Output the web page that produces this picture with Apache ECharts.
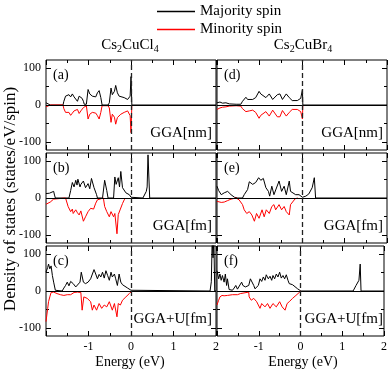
<!DOCTYPE html>
<html>
<head>
<meta charset="utf-8">
<script src="https://cdn.jsdelivr.net/npm/echarts@6/dist/echarts.min.js"></script>
<style>
  html, body { margin: 0; padding: 0; background: #fff; }
  #chart { width: 390px; height: 380px; }
</style>
</head>
<body>
<div id="chart"></div>
<script>
// energies in eV, DOS in states/eV/spin
const aMaj = [[-2, 6], [-1.96, 4], [-1.9, 0], [-1.6, 0], [-1.58, 10], [-1.54, 24], [-1.5, 20], [-1.46, 28], [-1.42, 22], [-1.38, 30], [-1.34, 22], [-1.3, 26], [-1.26, 10], [-1.22, 24], [-1.18, 20], [-1.15, 18], [-1.12, 10], [-1.1, 2], [-1.05, 2], [-1.01, 42], [-0.97, 30], [-0.91, 24], [-0.83, 22], [-0.79, 33], [-0.75, 39], [-0.71, 20], [-0.68, 0], [-0.54, 0], [-0.51, 6], [-0.47, 46], [-0.44, 28], [-0.39, 37], [-0.36, 53], [-0.32, 33], [-0.28, 24], [-0.24, 26], [-0.16, 20], [-0.08, 15], [-0.02, 24], [0, 77], [0.02, 0], [2, 0]]
const aMin = [[-2, -5], [-1.9, 0], [-1.6, 0], [-1.58, -10], [-1.54, -20], [-1.5, -25], [-1.46, -20], [-1.42, -28], [-1.38, -22], [-1.34, -16], [-1.3, -20], [-1.26, -12], [-1.22, -23], [-1.18, -16], [-1.12, -7], [-1.05, -2], [-1.01, -38], [-0.97, -25], [-0.91, -20], [-0.83, -22], [-0.79, -29], [-0.75, -38], [-0.71, -20], [-0.68, -2], [-0.54, -2], [-0.51, -8], [-0.47, -47], [-0.44, -25], [-0.39, -33], [-0.36, -52], [-0.32, -34], [-0.28, -29], [-0.24, -25], [-0.16, -20], [-0.08, -16], [-0.02, -29], [0, -75], [0.02, 0]]

const bMaj = [[-2, 12], [-1.96, 10], [-1.92, 13], [-1.88, 10], [-1.82, 18], [-1.8, 8], [-1.78, 0], [-1.46, 0], [-1.42, 20], [-1.38, 42], [-1.34, 30], [-1.3, 48], [-1.27, 35], [-1.25, 51], [-1.2, 30], [-1.18, 37], [-1.12, 46], [-1.07, 28], [-1.01, 39], [-0.97, 25], [-0.93, 53], [-0.87, 28], [-0.81, 9], [-0.79, 0], [-0.67, 0], [-0.62, 48], [-0.57, 20], [-0.54, 0], [-0.41, 0], [-0.38, 57], [-0.35, 37], [-0.3, 55], [-0.27, 30], [-0.24, 72], [-0.2, 28], [-0.12, 14], [-0.04, 9], [0, 2], [0.02, 0], [0.28, 0], [0.32, 5], [0.36, 18], [0.38, 30], [0.4, 117], [0.44, 0], [2, 0]]
const bMin = [[-2, -17], [-1.9, -11], [-1.82, -3], [-1.78, 0], [-1.54, 0], [-1.48, -23], [-1.42, -37], [-1.38, -30], [-1.36, -42], [-1.3, -32], [-1.26, -40], [-1.22, -46], [-1.18, -35], [-1.12, -63], [-1.07, -51], [-1.01, -37], [-0.95, -28], [-0.88, -30], [-0.83, -14], [-0.79, -5], [-0.75, 0], [-0.65, 0], [-0.62, -23], [-0.57, -37], [-0.51, -51], [-0.47, -37], [-0.41, -51], [-0.38, -42], [-0.33, -97], [-0.3, -45], [-0.25, -30], [-0.2, -15], [-0.16, -5], [-0.12, 0]]

const cMaj = [[-2, 51], [-1.96, 64], [-1.94, 73], [-1.91, 60], [-1.88, 68], [-1.85, 42], [-1.82, 24], [-1.78, 2], [-1.74, 0], [-1.62, 0], [-1.58, 8], [-1.54, 15], [-1.5, 24], [-1.46, 14], [-1.42, 26], [-1.36, 20], [-1.3, 11], [-1.26, 6], [-1.2, 24], [-1.17, 51], [-1.12, 24], [-1.07, 20], [-1.01, 24], [-0.95, 33], [-0.87, 58], [-0.83, 46], [-0.79, 33], [-0.75, 45], [-0.71, 38], [-0.67, 51], [-0.63, 35], [-0.59, 55], [-0.55, 42], [-0.51, 29], [-0.47, 51], [-0.44, 38], [-0.39, 46], [-0.36, 33], [-0.32, 15], [-0.28, 46], [-0.24, 24], [-0.2, 17], [-0.16, 15], [-0.08, 8], [0, 2], [0.02, 0], [1.86, 0], [1.89, 25], [1.91, 140], [1.93, 90], [1.95, 140], [1.97, 0], [2, 0]]
const cMin = [[-2, -83], [-1.96, -47], [-1.94, -29], [-1.91, -16], [-1.88, -4], [-1.82, -3], [-1.74, -7], [-1.66, -10], [-1.58, -12], [-1.5, -10], [-1.42, -10], [-1.34, -4], [-1.26, -3], [-1.18, -4], [-1.15, -52], [-1.11, -16], [-1.03, -20], [-0.95, -29], [-0.91, -52], [-0.87, -38], [-0.81, -52], [-0.75, -34], [-0.69, -47], [-0.63, -38], [-0.57, -43], [-0.51, -29], [-0.44, -52], [-0.39, -34], [-0.33, -70], [-0.3, -34], [-0.25, -38], [-0.2, -25], [-0.12, -16], [-0.04, -7], [0.02, 0]]

const dMaj = [[-2, 6], [-1.93, 8], [-1.87, 5], [-1.79, 6], [-1.71, 3], [-1.55, 2], [-1.44, 2], [-1.4, 10], [-1.32, 21], [-1.28, 15], [-1.24, 18], [-1.16, 15], [-1.09, 20], [-1.05, 25], [-1.01, 37], [-0.97, 30], [-0.93, 35], [-0.85, 20], [-0.77, 30], [-0.69, 15], [-0.66, 10], [-0.58, 28], [-0.52, 30], [-0.46, 15], [-0.37, 30], [-0.3, 20], [-0.23, 12], [-0.11, 12], [-0.03, 18], [0.01, 42], [0.02, 0], [2, 0]]
const dMin = [[-2, -12], [-1.93, -8], [-1.87, -6], [-1.79, -5], [-1.71, -3], [-1.55, -2], [-1.44, -3], [-1.4, -10], [-1.32, -18], [-1.28, -14], [-1.24, -16], [-1.16, -14], [-1.09, -20], [-1.05, -25], [-1.01, -36], [-0.97, -28], [-0.93, -30], [-0.85, -18], [-0.77, -30], [-0.69, -14], [-0.66, -10], [-0.58, -32], [-0.52, -32], [-0.46, -15], [-0.37, -30], [-0.3, -20], [-0.23, -12], [-0.11, -12], [-0.03, -18], [0.01, -38], [0.02, 0]]

const eMaj = [[-2, 32], [-1.96, 20], [-1.9, 9], [-1.83, 14], [-1.75, 18], [-1.67, 9], [-1.59, 2], [-1.51, 0], [-1.4, 0], [-1.36, 9], [-1.28, 23], [-1.24, 44], [-1.16, 37], [-1.09, 42], [-1.02, 55], [-0.97, 48], [-0.91, 53], [-0.85, 28], [-0.79, 18], [-0.76, 5], [-0.71, 32], [-0.66, 9], [-0.62, 14], [-0.54, 46], [-0.48, 18], [-0.42, 32], [-0.37, 9], [-0.3, 46], [-0.27, 18], [-0.23, 14], [-0.15, 9], [-0.07, 9], [0.01, 2], [0.09, 5], [0.16, 11], [0.24, 28], [0.29, 55], [0.32, 0], [2, 0]]
const eMin = [[-2, -9], [-1.9, -12], [-1.83, -11], [-1.75, -7], [-1.67, -3], [-1.55, 0], [-1.48, -5], [-1.4, -18], [-1.36, -32], [-1.3, -42], [-1.24, -37], [-1.18, -46], [-1.12, -63], [-1.07, -42], [-1.01, -55], [-0.94, -32], [-0.89, -51], [-0.84, -32], [-0.77, -42], [-0.71, -23], [-0.66, -18], [-0.62, -32], [-0.54, -18], [-0.48, -32], [-0.42, -23], [-0.37, -37], [-0.3, -46], [-0.27, -18], [-0.23, -14], [-0.16, -2], [-0.1, 0]]

const fMaj = [[-2, 55], [-1.96, 33], [-1.93, 46], [-1.9, 29], [-1.87, 42], [-1.83, 24], [-1.8, 46], [-1.77, 15], [-1.75, 33], [-1.71, 4], [-1.63, 2], [-1.59, 8], [-1.55, 15], [-1.51, 5], [-1.48, 10], [-1.41, 24], [-1.38, 15], [-1.32, 11], [-1.24, 15], [-1.2, 33], [-1.16, 35], [-1.12, 15], [-1.09, 6], [-1.05, 4], [-1.01, 15], [-0.97, 33], [-0.93, 26], [-0.89, 38], [-0.85, 29], [-0.82, 44], [-0.77, 33], [-0.73, 40], [-0.69, 29], [-0.66, 42], [-0.62, 33], [-0.58, 46], [-0.54, 38], [-0.5, 51], [-0.46, 35], [-0.42, 42], [-0.38, 33], [-0.34, 44], [-0.3, 29], [-0.27, 20], [-0.23, 24], [-0.19, 17], [-0.15, 15], [-0.07, 6], [0.01, 0], [1.26, 0], [1.33, 15], [1.37, 20], [1.4, 29], [1.43, 73], [1.45, 0], [2, 0]]
const fMin = [[-2, -38], [-1.96, -25], [-1.93, -16], [-1.88, -12], [-1.83, -13], [-1.75, -12], [-1.63, -10], [-1.51, -10], [-1.44, -7], [-1.4, -3], [-1.24, -3], [-1.23, -16], [-1.18, -25], [-1.12, -20], [-1.05, -29], [-0.97, -47], [-0.93, -34], [-0.85, -43], [-0.79, -34], [-0.73, -47], [-0.66, -34], [-0.58, -43], [-0.5, -29], [-0.44, -43], [-0.37, -52], [-0.32, -34], [-0.27, -29], [-0.19, -20], [-0.11, -12], [-0.03, -4], [0.01, 0]]

const panelTags = ['(a)', '(b)', '(c)', '(d)', '(e)', '(f)']
const methods = ['GGA[nm]', 'GGA[fm]', 'GGA+U[fm]', 'GGA[nm]', 'GGA[fm]', 'GGA+U[fm]']
const majSeries = [aMaj, bMaj, cMaj, dMaj, eMaj, fMaj]
const minSeries = [aMin, bMin, cMin, dMin, eMin, fMin]
const yMajorTicks = [-100, 0, 100]
const yMinorTicks = [-50, 50]

const FONT = 'Liberation Serif'
const colLeft = [46, 217]
const colWidth = 170
const rowTop = [60, 153, 246]
const rowHeight = 90
const yMin = -122
const yMax = 122

const chart = echarts.init(document.getElementById('chart'), null, { renderer: 'canvas' })

const grid = []
const xAxis = []
const yAxis = []
const series = []
const graphic = []

for (let i = 0; i < 6; i++) {
  const col = i < 3 ? 0 : 1
  const row = i % 3
  const left = colLeft[col]
  const top = rowTop[row]
  grid.push({
    left: left, top: top, width: colWidth, height: rowHeight,
    show: true, borderColor: '#000', borderWidth: 1, backgroundColor: 'transparent'
  })
  const isBottom = row === 2
  ;['bottom', 'top'].forEach(pos => {
    xAxis.push({
      type: 'value', gridIndex: i, position: pos, min: -2, max: 2, interval: 1,
      axisLine: { show: false, onZero: false },
      axisTick: { show: true, inside: true, length: 5, lineStyle: { color: '#000', width: 1 } },
      minorTick: { show: true, splitNumber: 2, length: 3, lineStyle: { color: '#000', width: 1 } },
      splitLine: { show: false },
      axisLabel: {
        show: isBottom && pos === 'bottom', margin: 5,
        fontFamily: FONT, fontSize: 12, color: '#000',
        formatter: v => (v === -2 ? '' : String(v))
      }
    })
  })
  ;['left', 'right'].forEach(pos => {
    yAxis.push({
      type: 'value', gridIndex: i, position: pos, min: yMin, max: yMax,
      axisLine: { show: false, onZero: false },
      axisTick: { show: true, inside: true, length: 5, customValues: yMajorTicks, lineStyle: { color: '#000' } },
      splitLine: { show: false },
      axisLabel: {
        show: col === 0 && pos === 'left', customValues: yMajorTicks, margin: 5,
        fontFamily: FONT, fontSize: 12, color: '#000'
      }
    })
    yAxis.push({
      type: 'value', gridIndex: i, position: pos, min: yMin, max: yMax,
      axisLine: { show: false, onZero: false },
      axisTick: { show: true, inside: true, length: 3, customValues: yMinorTicks, lineStyle: { color: '#000' } },
      splitLine: { show: false },
      axisLabel: { show: false }
    })
  })

  series.push({
    name: 'Majority spin', type: 'line', xAxisIndex: 2 * i, yAxisIndex: 4 * i,
    data: majSeries[i], symbol: 'none', clip: true, z: 2,
    lineStyle: { color: '#000', width: 1 }, itemStyle: { color: '#000' }
  })
  series.push({
    name: 'Minority spin', type: 'line', xAxisIndex: 2 * i, yAxisIndex: 4 * i,
    data: minSeries[i], symbol: 'none', clip: true, z: 2,
    lineStyle: { color: '#ff0000', width: 1 }, itemStyle: { color: '#ff0000' },
    markLine: {
      silent: true, symbol: 'none', label: { show: false }, z: 6,
      data: [
        { yAxis: 0, lineStyle: { color: '#000', width: 1.2, type: 'solid' } },
        { xAxis: 0, lineStyle: { color: '#222', width: 1.3, type: [5, 3] } }
      ]
    }
  })

  graphic.push({
    type: 'text', left: left + 7, top: top + 8,
    style: { text: panelTags[i], font: '14px ' + FONT, fill: '#000' }
  })
  graphic.push({
    type: 'text', right: 390 - (left + colWidth) + 4, top: top + 66,
    style: { text: methods[i], font: '15px ' + FONT, fill: '#000' }
  })
}

const rich = {
  n: { fontFamily: FONT, fontSize: 15, color: '#000', lineHeight: 18, verticalAlign: 'middle' },
  s: { fontFamily: FONT, fontSize: 10, color: '#000', lineHeight: 8, verticalAlign: 'bottom' }
}
graphic.push({
  type: 'text', x: 130, y: 45,
  style: { text: '{n|Cs}{s|2}{n|CuCl}{s|4}', rich: rich, align: 'center', verticalAlign: 'middle' }
})
graphic.push({
  type: 'text', x: 303, y: 45,
  style: { text: '{n|Cs}{s|2}{n|CuBr}{s|4}', rich: rich, align: 'center', verticalAlign: 'middle' }
})
graphic.push({
  type: 'text', x: 130, y: 362,
  style: { text: 'Energy (eV)', font: '14px ' + FONT, fill: '#000', align: 'center', verticalAlign: 'middle' }
})
graphic.push({
  type: 'text', x: 303, y: 362,
  style: { text: 'Energy (eV)', font: '14px ' + FONT, fill: '#000', align: 'center', verticalAlign: 'middle' }
})
graphic.push({
  type: 'text', x: 11, y: 199, rotation: Math.PI / 2,
  style: { text: 'Density of states (states/eV/spin)', font: '17px ' + FONT, fill: '#000', align: 'center', verticalAlign: 'middle' }
})

chart.setOption({
  animation: false,
  backgroundColor: '#fff',
  legend: {
    data: ['Majority spin', 'Minority spin'],
    orient: 'vertical', left: 152, top: -1,
    icon: 'rect', itemWidth: 38, itemHeight: 1.5, itemGap: 3,
    textStyle: { fontFamily: FONT, fontSize: 15, color: '#000', padding: [0, 0, 0, 0] }
  },
  grid: grid,
  xAxis: xAxis,
  yAxis: yAxis,
  series: series,
  graphic: graphic
})
</script>
</body>
</html>
